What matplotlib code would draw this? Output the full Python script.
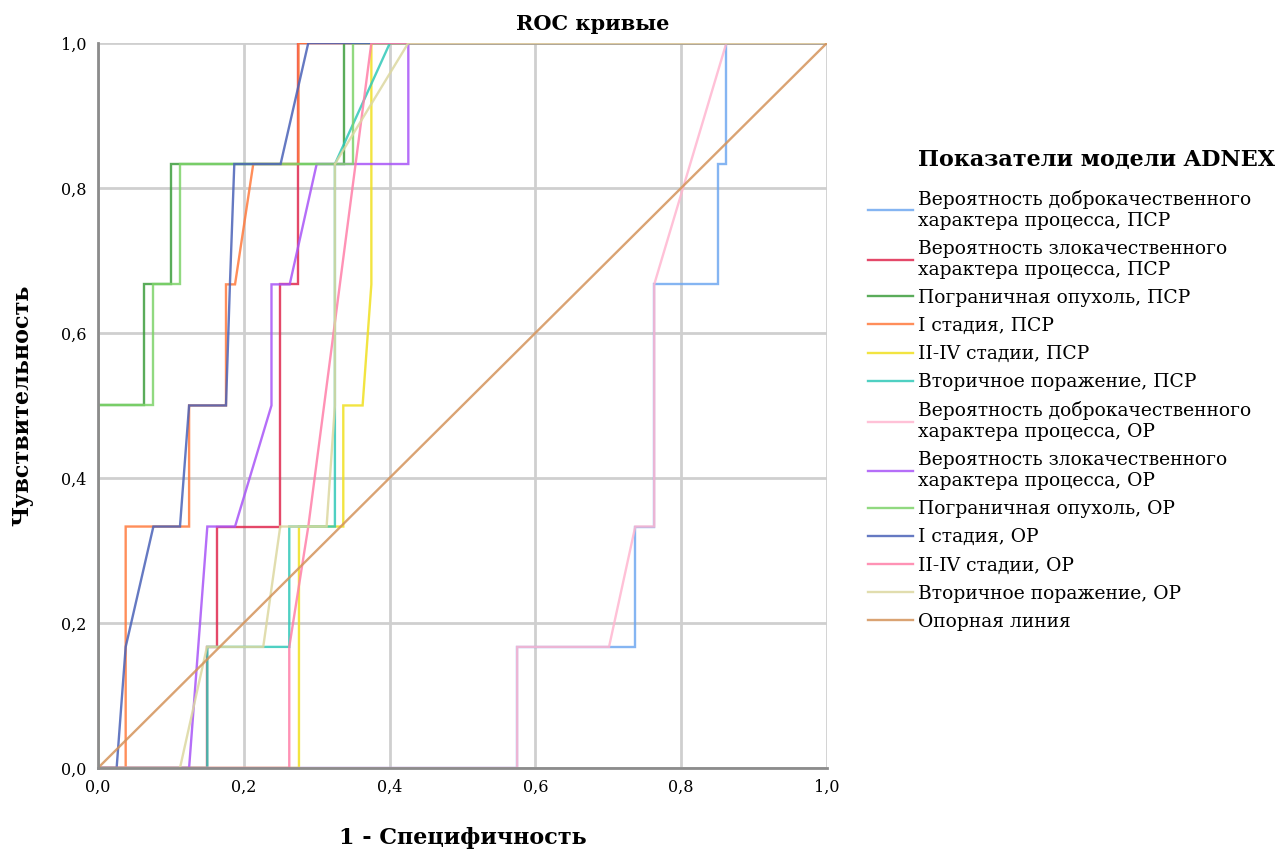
import matplotlib
matplotlib.use('Agg')
import matplotlib.pyplot as plt
from matplotlib.ticker import FuncFormatter

plt.rcParams['font.family'] = ['DejaVu Serif', 'Liberation Serif']

# ROC points: 1 - specificity (x) and sensitivity (y) for every model output
benign_psr_x = [0, 0.575, 0.575, 0.737, 0.737, 0.763, 0.763, 0.850, 0.850, 0.862, 0.862, 1.0]
benign_psr_y = [0, 0, 0.167, 0.167, 0.333, 0.333, 0.667, 0.667, 0.833, 0.833, 1.0, 1.0]

malig_psr_x = [0, 0.150, 0.150, 0.163, 0.163, 0.250, 0.250, 0.274, 0.274, 1.0]
malig_psr_y = [0, 0, 0.167, 0.167, 0.333, 0.333, 0.667, 0.667, 1.0, 1.0]

border_psr_x = [0, 0, 0.0635, 0.0635, 0.100, 0.100, 0.338, 0.338, 1.0]
border_psr_y = [0, 0.5, 0.5, 0.667, 0.667, 0.833, 0.833, 1.0, 1.0]

st1_psr_x = [0, 0.038, 0.038, 0.125, 0.125, 0.1756, 0.1756, 0.188, 0.213, 0.275, 0.275, 1.0]
st1_psr_y = [0, 0, 0.333, 0.333, 0.5, 0.5, 0.667, 0.667, 0.833, 0.833, 1.0, 1.0]

st24_psr_x = [0, 0.2757, 0.2757, 0.3365, 0.3365, 0.363, 0.375, 0.375, 1.0]
st24_psr_y = [0, 0, 0.333, 0.333, 0.5, 0.5, 0.667, 1.0, 1.0]

second_psr_x = [0, 0.150, 0.150, 0.2624, 0.2624, 0.325, 0.325, 0.4005, 1.0]
second_psr_y = [0, 0, 0.167, 0.167, 0.333, 0.333, 0.833, 1.0, 1.0]

benign_or_x = [0, 0.575, 0.575, 0.701, 0.737, 0.763, 0.763, 0.862, 1.0]
benign_or_y = [0, 0, 0.167, 0.167, 0.333, 0.333, 0.667, 1.0, 1.0]

malig_or_x = [0, 0.125, 0.150, 0.188, 0.238, 0.238, 0.263, 0.300, 0.4257, 0.4257, 1.0]
malig_or_y = [0, 0, 0.333, 0.333, 0.5, 0.667, 0.667, 0.833, 0.833, 1.0, 1.0]

border_or_x = [0, 0, 0.075, 0.075, 0.1125, 0.1125, 0.350, 0.350, 1.0]
border_or_y = [0, 0.5, 0.5, 0.667, 0.667, 0.833, 0.833, 1.0, 1.0]

st1_or_x = [0, 0.0256, 0.038, 0.076, 0.1125, 0.125, 0.1756, 0.181, 0.187, 0.2505, 0.2885, 1.0]
st1_or_y = [0, 0, 0.167, 0.333, 0.333, 0.5, 0.5, 0.667, 0.833, 0.833, 1.0, 1.0]

st24_or_x = [0, 0.2624, 0.2624, 0.2885, 0.375, 1.0]
st24_or_y = [0, 0, 0.167, 0.333, 1.0, 1.0]

second_or_x = [0, 0.1125, 0.1495, 0.2267, 0.250, 0.3136, 0.325, 0.325, 0.4257, 1.0]
second_or_y = [0, 0, 0.167, 0.167, 0.333, 0.333, 0.5, 0.833, 1.0, 1.0]

ref_x = [0, 1.0]
ref_y = [0, 1.0]

labels = [
    'Вероятность доброкачественного\nхарактера процесса, ПСР',
    'Вероятность злокачественного\nхарактера процесса, ПСР',
    'Пограничная опухоль, ПСР',
    'I стадия, ПСР',
    'II-IV стадии, ПСР',
    'Вторичное поражение, ПСР',
    'Вероятность доброкачественного\nхарактера процесса, ОР',
    'Вероятность злокачественного\nхарактера процесса, ОР',
    'Пограничная опухоль, ОР',
    'I стадия, ОР',
    'II-IV стадии, ОР',
    'Вторичное поражение, ОР',
    'Опорная линия',
]
colors = ['#70a8f0', '#e0284f', '#3d9e3d', '#ff7a3d', '#f0e020', '#30c8b8',
          '#ffb6d0', '#a855f7', '#7ed36a', '#4a62b8', '#ff7fa8', '#dcd8a0', '#d4935a']

curves = [
    (benign_psr_x, benign_psr_y), (malig_psr_x, malig_psr_y), (border_psr_x, border_psr_y),
    (st1_psr_x, st1_psr_y), (st24_psr_x, st24_psr_y), (second_psr_x, second_psr_y),
    (benign_or_x, benign_or_y), (malig_or_x, malig_or_y), (border_or_x, border_or_y),
    (st1_or_x, st1_or_y), (st24_or_x, st24_or_y), (second_or_x, second_or_y),
    (ref_x, ref_y),
]

fig = plt.figure(figsize=(12.79, 8.5), dpi=100)
ax = fig.add_axes([0.0766, 0.0965, 0.570, 0.853])

for (xs, ys), lab, col in zip(curves, labels, colors):
    ax.plot(xs, ys, color=col, lw=1.7, alpha=0.85, label=lab, solid_joinstyle='miter')

ax.set_xlim(0, 1)
ax.set_ylim(0, 1)
ticks = [0, 0.2, 0.4, 0.6, 0.8, 1.0]
ax.set_xticks(ticks)
ax.set_yticks(ticks)
comma = FuncFormatter(lambda v, p: ('%.1f' % v).replace('.', ','))
ax.xaxis.set_major_formatter(comma)
ax.yaxis.set_major_formatter(comma)
ax.tick_params(length=0, labelsize=11.5, pad=8)
ax.grid(True, color='#cfcfcf', lw=2)
ax.set_axisbelow(True)
for s in ['top', 'right']:
    ax.spines[s].set_visible(False)
for s in ['left', 'bottom']:
    ax.spines[s].set_color('#8c8c8c')
    ax.spines[s].set_linewidth(2)

fig.text(593 / 1279, 1 - 24 / 850, 'ROC кривые', fontsize=15, fontweight='bold',
         ha='center', va='center')
ax.set_xlabel('1 - Специфичность', fontsize=16, fontweight='bold', labelpad=22)
ax.set_ylabel('Чувствительность', fontsize=16, fontweight='bold', labelpad=20)

fig.text(918 / 1279, 1 - 160 / 850, 'Показатели модели ADNEX', fontsize=16, fontweight='bold',
         ha='left', va='center')
fig.legend(loc='upper left', bbox_to_anchor=(868 / 1279, 1 - 190 / 850), frameon=False,
           fontsize=13.5, handlelength=2.4, handletextpad=0.25, labelspacing=0.54,
           borderpad=0, borderaxespad=0)

fig.savefig('out.png', dpi=100)
